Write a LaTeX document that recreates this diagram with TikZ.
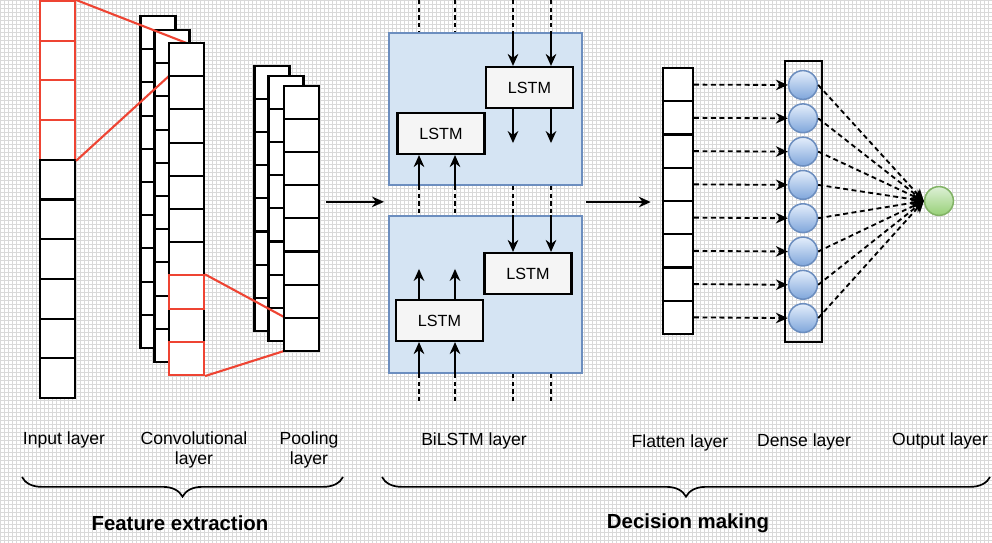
\documentclass[tikz,border=0pt]{standalone}
\usepackage{fontspec}
\setmainfont{Liberation Sans}
\usetikzlibrary{arrows.meta,positioning,calc,decorations.pathreplacing}
\definecolor{cRed}{HTML}{EE4433}
\definecolor{cBoxFill}{HTML}{D5E4F3}
\definecolor{cBoxLine}{HTML}{6C8EBF}
\definecolor{cNeuTop}{HTML}{E4EEFB}
\definecolor{cNeuBot}{HTML}{7FA6DB}
\definecolor{cOutTop}{HTML}{DDF0D6}
\definecolor{cOutBot}{HTML}{97D077}
\definecolor{cOutLine}{HTML}{82B366}
\definecolor{cGrid}{HTML}{D9D9D9}
\tikzset{
  >={Stealth[length=8.5pt,width=7.5pt]},
  cell/.style   ={rectangle,draw=black,fill=white,line width=1.5pt,inner sep=0pt,minimum width=0.875cm,minimum height=0.83cm},
  redcell/.style={cell,draw=cRed},
  bilstm/.style ={rectangle,draw=cBoxLine,fill=cBoxFill,line width=1.4pt,inner sep=0pt,minimum width=4.825cm},
  lstm/.style   ={rectangle,draw=black,fill=black!4,line width=1.5pt,inner sep=0pt,minimum width=2.175cm,minimum height=1.025cm,font=\fontsize{11.5}{13}\selectfont},
  neuron/.style ={circle,draw=cBoxLine,top color=cNeuTop,bottom color=cNeuBot,line width=1.1pt,minimum size=0.72cm,inner sep=0pt},
  outn/.style   ={neuron,draw=cOutLine,top color=cOutTop,bottom color=cOutBot},
  flow/.style   ={->,line width=1.4pt},
  dotl/.style   ={line width=1.4pt,dash pattern=on 3pt off 2.5pt},
  dflow/.style  ={->,line width=1.3pt,dash pattern=on 3.5pt off 2.5pt},
  lab/.style    ={font=\fontsize{12.5}{14}\selectfont,align=center},
  grp/.style    ={font=\fontsize{14.5}{17}\selectfont\bfseries},
  brc/.style    ={decorate,decoration={brace,mirror,amplitude=14pt},line width=1.2pt},
}

\begin{document}
\begin{tikzpicture}[x=0.025cm,y=-0.025cm]
  \useasboundingbox (0,0) rectangle (992,543);
  % grid paper
  \draw[cGrid,line width=0.35pt,step=0.1cm] (0,0) grid (992,543);

  % ---- input layer ----
  \foreach \i in {1,...,10}{
    \ifnum\i<5 \def\st{redcell}\else\def\st{cell}\fi
    \node[\st,minimum height=0.9925cm] (in\i) at (57.5,{1+39.7*(\i-0.5)}) {};
  }

  % ---- convolutional layer ----
  \foreach \i in {1,...,10} \node[cell] (cb\i) at (158,{16+33.2*(\i-0.5)}) {};
  \foreach \i in {1,...,10} \node[cell] (cm\i) at (172,{30+33.2*(\i-0.5)}) {};
  \draw[cRed,line width=1.5pt] (in1.north east) -- (186.5,43);
  \draw[cRed,line width=1.5pt] (in4.south east) -- (169,76);
  \foreach \i in {1,...,7,9,8,10}{
    \def\st{cell}
    \ifnum\i>7 \ifodd\i\else\def\st{redcell}\fi\fi
    \node[\st] (cf\i) at (186.5,{43+33.2*(\i-0.5)}) {};
  }

  % ---- pooling layer ----
  \foreach \i in {1,...,8} \node[cell,minimum height=0.8275cm] (pb\i) at (272,{66+33.1*(\i-0.5)}) {};
  \foreach \i in {1,...,8} \node[cell,minimum height=0.8275cm] (pm\i) at (286,{76+33.1*(\i-0.5)}) {};
  \draw[cRed,line width=1.5pt] (cf8.north east) -- (284,317);
  \draw[cRed,line width=1.5pt] (cf10.south east) -- (284,351);
  \foreach \i in {1,...,8} \node[cell,minimum height=0.8275cm] (pf\i) at (301.5,{86+33.1*(\i-0.5)}) {};

  % ---- BiLSTM layer ----
  \node[bilstm,minimum height=3.8cm] (upbox) at (485.5,109) {};
  \node[bilstm,minimum height=3.925cm] (lowbox) at (485.5,294.5) {};
  \node[lstm] (lu1) at (529.5,87.5) {LSTM};
  \node[lstm] (lu2) at (441,133.5) {LSTM};
  \node[lstm] (ll1) at (528,273.5) {LSTM};
  \node[lstm] (ll2) at (439.5,320.5) {LSTM};
  \coordinate (c1) at (419,0);
  \coordinate (c2) at (455,0);
  \coordinate (c3) at (513,0);
  \coordinate (c4) at (551,0);
  \foreach \c in {c1,c2,c3,c4}{
    \draw[dotl] (\c) -- (\c |- upbox.north);
    \draw[dotl] (\c |- upbox.south) -- (\c |- lowbox.north);
    \draw[dotl] (\c |- lowbox.south) -- ($(\c |- lowbox.south)+(0,27)$);
  }
  \foreach \c in {c3,c4}{
    \draw[flow] (\c |- upbox.north) -- (\c |- lu1.north);
    \draw[flow] (\c |- lu1.south) -- ($(\c |- lu1.south)+(0,34)$);
    \draw[flow] (\c |- lowbox.north) -- (\c |- ll1.north);
  }
  \foreach \c in {c1,c2}{
    \draw[flow] (\c |- upbox.south) -- (\c |- lu2.south);
    \draw[flow] (\c |- lowbox.south) -- (\c |- ll2.south);
    \draw[flow] (\c |- ll2.north) -- ($(\c |- ll2.north)+(0,-30)$);
  }
  \draw[flow] ([xshift=0.15cm]pf4.east) -- ([xshift=-0.1cm]pf4.east -| upbox.west);

  % ---- flatten, dense, output ----
  \foreach \i in {1,...,8} \node[cell,minimum width=0.75cm,minimum height=0.83cm] (fl\i) at (678,{68+33.25*(\i-0.5)}) {};
  \draw[flow] ([xshift=0.08cm]fl4.south west -| upbox.east) -- ([xshift=-0.28cm]fl4.south west);
  \node[draw,line width=1.5pt,inner sep=0pt,minimum width=0.925cm,minimum height=7.025cm] (dbox) at (803.5,201.5) {};
  \foreach \i in {1,...,8} \node[neuron] (d\i) at (803,{85+33.3*(\i-1)}) {};
  \node[outn] (out) at (939,201) {};
  \foreach \i in {1,...,8}{
    \draw[dflow] (fl\i.east) -- (d\i.west);
    \draw[dflow] (d\i.east) -- (out.west);
  }

  % ---- labels ----
  \node[lab] (labIn)   at (64,440)  {Input layer};
  \node[lab] (labConv) at (194,450) {Convolutional\\layer};
  \node[lab] (labPool) at (309,450) {Pooling\\layer};
  \node[lab] (labBi)   at (474,441) {BiLSTM layer};
  \node[lab] (labFl)   at (680,443) {Flatten layer};
  \node[lab] (labDe)   at (804,442) {Dense layer};
  \node[lab] (labOut)  at (940,441) {Output layer};
  \draw[brc] (22,477) -- (343,477);
  \draw[brc] (382,477) -- (990,477);
  \node[grp] (feat) at (180,523) {Feature extraction};
  \node[grp] (deci) at (688,523) {Decision making};
\end{tikzpicture}
\end{document}
